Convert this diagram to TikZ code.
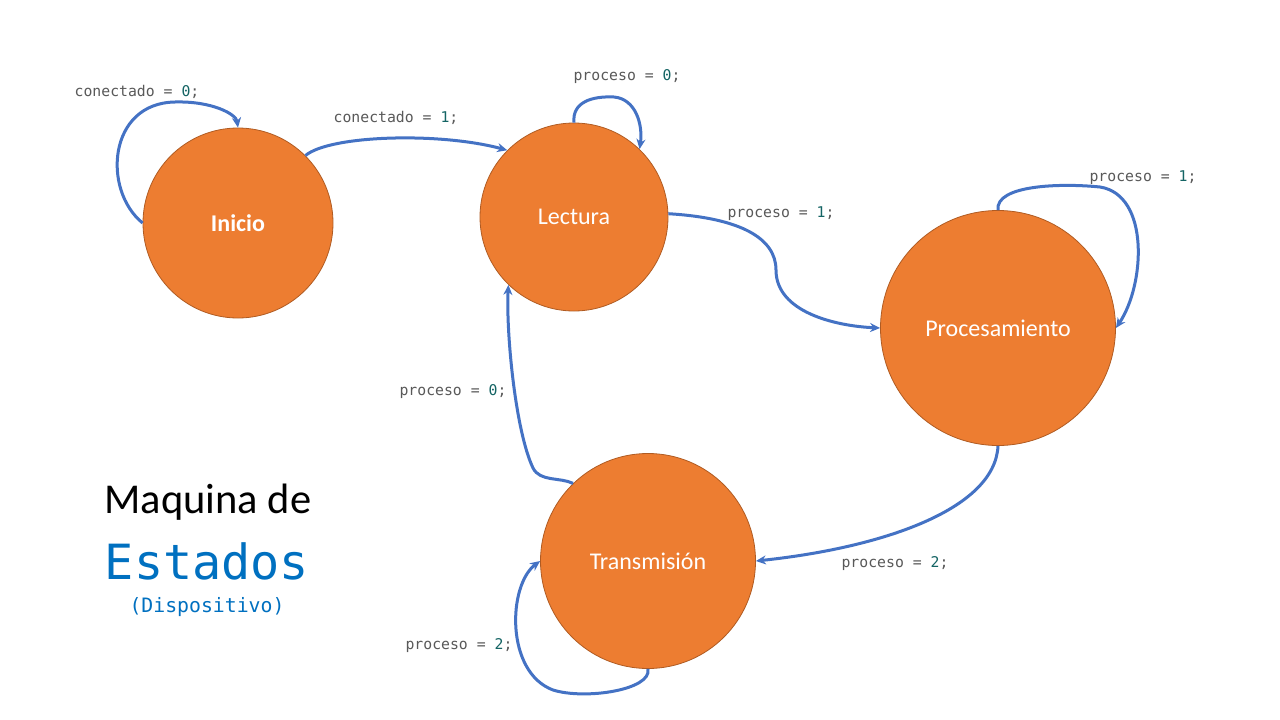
\documentclass[tikz,border=0pt]{standalone}
\usepackage{fontspec}
\setmainfont{Carlito}
\newfontfamily\codefont{DejaVu Sans Mono}
\usetikzlibrary{arrows.meta}
\definecolor{stfill}{HTML}{ED7D31}
\definecolor{stdraw}{HTML}{B05B22}
\definecolor{conn}{HTML}{4472C4}
\definecolor{codegray}{HTML}{595959}
\definecolor{codenum}{RGB}{20,100,100}
\definecolor{titleblue}{HTML}{0070C0}
\newcommand{\cn}[1]{\textcolor{codenum}{#1}}
\begin{document}
\begin{tikzpicture}[x=1pt,y=-1pt,
  statenode/.style={circle,fill=stfill,draw=stdraw,line width=0.8pt,text=white,inner sep=0pt,font=\fontsize{24}{28}\selectfont},
  lbl/.style={text=codegray,font=\codefont\fontsize{14.8}{17}\selectfont,inner sep=0pt},
  link/.style={draw=conn,line width=3pt,-{Stealth[length=10pt,width=9pt]}}]
\useasboundingbox (0,0) rectangle (1280,720);
\fill[white] (0,0) rectangle (1280,720);

\node[statenode,minimum size=190pt] (ini) at (238,223) {\textbf{Inicio}};
\node[statenode,minimum size=188pt] (lec) at (574,217) {Lectura};
\node[statenode,minimum size=235pt] (pro) at (998,328) {Procesamiento};
\node[statenode,minimum size=215pt] (tra) at (648,561) {Transmisión};

% loops and transitions
\path[link] (ini.180) .. controls (102,190) and (108,103) .. (175,102)
  .. controls (212,101) and (236,114) .. (ini.90);
\path[link] (ini.45) .. controls (330,135) and (440,132) .. (lec.135);
\path[link] (lec.90) .. controls (572,102) and (592,96) .. (614,97)
  .. controls (636,99) and (643,125) .. (lec.46);
\path[link] (lec.2) .. controls (740,218) and (776,238) .. (776,270)
  .. controls (776,312) and (835,326) .. (pro.180);
\path[link] (pro.90) .. controls (995,185) and (1060,183) .. (1100,187)
  .. controls (1150,195) and (1145,285) .. (pro.0);
\path[link] (pro.270) .. controls (995,510) and (880,548) .. (tra.0);
\path[link] (tra.134) .. controls (560,477) and (540,482) .. (533,468)
  .. controls (515,430) and (506,330) .. (lec.226);
\path[link] (tra.270) .. controls (652,690) and (585,700) .. (553,690)
  .. controls (505,672) and (508,585) .. (tra.180);

% labels
\node[lbl] (l1) at (137,92) {conectado = \cn{0};};
\node[lbl] (l2) at (396,118) {conectado = \cn{1};};
\node[lbl] (l3) at (627,77) {proceso = \cn{0};};
\node[lbl] (l4) at (781,214) {proceso = \cn{1};};
\node[lbl] (l5) at (1143,178) {proceso = \cn{1};};
\node[lbl] (l6) at (453,392) {proceso = \cn{0};};
\node[lbl] (l7) at (895,564) {proceso = \cn{2};};
\node[lbl] (l8) at (459,646) {proceso = \cn{2};};

% title
\node[inner sep=0pt,font=\fontsize{42.5}{46}\selectfont] (t1) at (208,502) {Maquina de};
\node[inner sep=0pt,text=titleblue,font=\codefont\fontsize{48.5}{52}\selectfont] (t2) at (207,561) {Estados};
\node[inner sep=0pt,text=titleblue,font=\codefont\fontsize{19.8}{22}\selectfont] (t3) at (207,607) {(Dispositivo)};
\end{tikzpicture}
\end{document}
